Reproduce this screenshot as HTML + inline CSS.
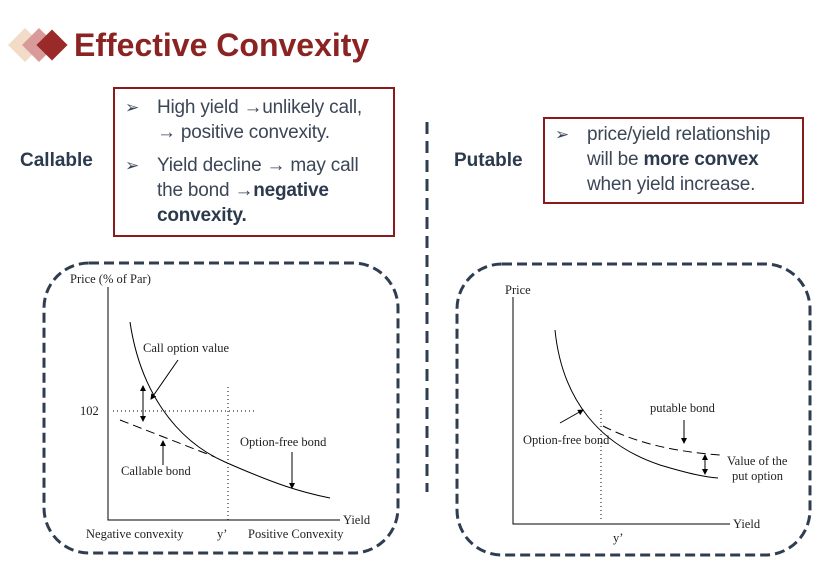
<!DOCTYPE html>
<html><head><style>
body{margin:0;width:822px;height:567px;background:#fff;position:relative;overflow:hidden;font-family:"Liberation Sans",sans-serif;}
.t{position:absolute;}
.box{position:absolute;border:2px solid #8b1a1a;color:#3b4656;font-size:19px;line-height:25px;white-space:nowrap;letter-spacing:-0.2px;}
.box p{margin:0;padding-left:42px;position:relative;}
.box p:before{content:"➢";position:absolute;left:10px;font-size:17px;}
b{color:#2c3a4e}
</style></head><body>
<svg width="822" height="567" style="position:absolute;left:0;top:0" font-family="Liberation Serif" font-size="12.5">
<rect x="13" y="33" width="24" height="24" fill="#f2dcc7" transform="rotate(45 25 45)"/>
<rect x="27" y="33" width="24" height="24" fill="#d99a9a" transform="rotate(45 39 45)"/>
<rect x="41" y="34" width="22" height="22" fill="#9a2a2a" transform="rotate(45 52 45)"/>
<line x1="427" y1="122" x2="427" y2="492" stroke="#2f3d50" stroke-width="3" stroke-dasharray="12,7"/>
<rect x="44" y="263" width="354" height="290" rx="45" fill="none" stroke="#2f3d50" stroke-width="3" stroke-dasharray="10,5"/>
<rect x="457" y="264" width="353" height="291" rx="45" fill="none" stroke="#2f3d50" stroke-width="3" stroke-dasharray="10,5"/>
<defs><marker id="a" markerWidth="6" markerHeight="6" refX="5" refY="3" orient="auto"><path d="M0,0L6,3L0,6z" fill="#000"/></marker>
<marker id="b" markerWidth="6" markerHeight="6" refX="1" refY="3" orient="auto"><path d="M6,0L0,3L6,6z" fill="#000"/></marker></defs>
<g stroke="#000" fill="none">
<polyline points="108,287 108,520 340,520"/>
<path d="M130,322 C140,390 175,440 225,462 S300,492 330,498"/>
<path d="M120,420 L215,457" stroke-dasharray="9,5"/>
<line x1="113" y1="411" x2="255" y2="411" stroke-dasharray="1,3"/>
<line x1="228" y1="387" x2="228" y2="520" stroke-dasharray="1,3"/>
<line x1="143" y1="386" x2="143" y2="421" marker-start="url(#b)" marker-end="url(#a)"/>
<line x1="178" y1="360" x2="151" y2="399" marker-end="url(#a)"/>
<line x1="163" y1="465" x2="163" y2="441" marker-end="url(#a)"/>
<line x1="292" y1="452" x2="292" y2="488" marker-end="url(#a)"/>
<polyline points="513,297 513,524 730,524"/>
<path d="M555,330 C562,400 600,445 660,465 C690,474 705,477 718,478"/>
<path d="M603,426 C640,445 680,452 720,455" stroke-dasharray="9,5"/>
<line x1="601" y1="410" x2="601" y2="520" stroke-dasharray="1,3"/>
<line x1="560" y1="423" x2="583" y2="410" marker-end="url(#a)"/>
<line x1="684" y1="420" x2="684" y2="443" marker-end="url(#a)"/>
<line x1="705" y1="455" x2="705" y2="474" marker-start="url(#b)" marker-end="url(#a)"/>
</g>
<g fill="#222">
<text x="70" y="283">Price (% of Par)</text>
<text x="80" y="415">102</text>
<text x="143" y="352">Call option value</text>
<text x="121" y="475">Callable bond</text>
<text x="240" y="446">Option-free bond</text>
<text x="343" y="524">Yield</text>
<text x="86" y="538">Negative convexity</text>
<text x="217" y="538">y’</text>
<text x="248" y="538">Positive Convexity</text>
<text x="505" y="294">Price</text>
<text x="523" y="444">Option-free bond</text>
<text x="650" y="412">putable bond</text>
<text x="727" y="465">Value of the</text>
<text x="732" y="480">put option</text>
<text x="733" y="528">Yield</text>
<text x="613" y="542">y’</text>
</g>
</svg>
<div class="t" style="left:74px;top:27px;font-size:32px;font-weight:bold;color:#8b2323;">Effective Convexity</div>
<div class="t" style="left:20px;top:150px;font-size:19px;font-weight:bold;color:#2c3a4e;">Callable</div>
<div class="t" style="left:454px;top:150px;font-size:19px;font-weight:bold;color:#2c3a4e;">Putable</div>
<div class="box" style="left:113px;top:87px;width:278px;height:146px;">
<p style="margin-top:6px">High yield →unlikely call,<br>→ positive convexity.</p>
<p style="margin-top:8px">Yield decline → may call<br>the bond →<b>negative</b><br><b>convexity.</b></p>
</div>
<div class="box" style="left:543px;top:117px;width:257px;height:83px;">
<p style="margin-top:3px">price/yield relationship<br>will be <b>more convex</b><br>when yield increase.</p>
</div>
</body></html>
